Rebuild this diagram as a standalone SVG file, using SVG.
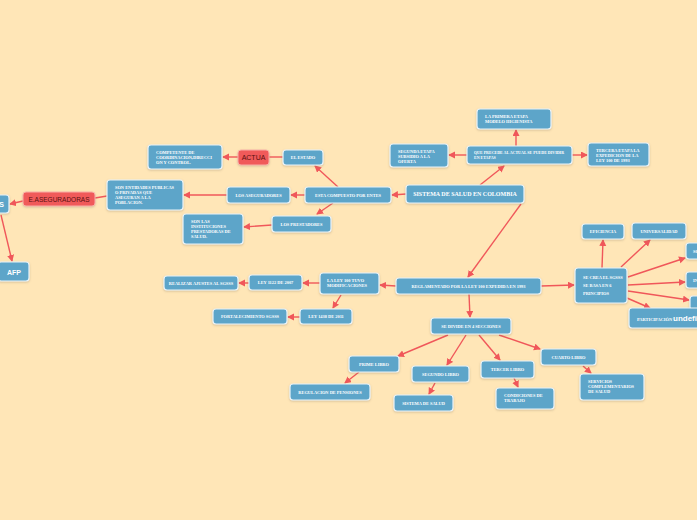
<svg xmlns="http://www.w3.org/2000/svg" width="697" height="520" viewBox="0 0 697 520">
<defs>
<style>
.bg{fill:#FFE6B7}
.n rect{fill:#5DA5C9;stroke:#EAF3F8;stroke-width:1.2;filter:url(#sh)}
.r rect{fill:#F05A5A;stroke:#F8B0A8;stroke-width:1;filter:url(#sh)}
.n text{fill:#FFFFFF;font-family:"Liberation Serif",serif;font-weight:bold;font-size:4.4px}
.c{text-anchor:middle}
.big{font-size:6px !important}
.sm{font-size:4px !important}
.r text{fill:#5A1010;font-family:"Liberation Sans",Arial,sans-serif;font-size:7px;text-anchor:middle}
.afp{font-family:"Liberation Sans",Arial,sans-serif !important;font-size:7px !important}
.und{font-family:"Liberation Sans",Arial,sans-serif !important;font-size:8px !important}
#edges path{fill:none;stroke:#F0575A;stroke-width:1.4}
#edges .a{marker-end:url(#ah)}
</style>
<marker id="ah" markerUnits="userSpaceOnUse" markerWidth="8" markerHeight="8" refX="6" refY="3.5" orient="auto">
<path d="M0,0 L7,3.5 L0,7 Z" fill="#F0575A"/>
</marker>
<filter id="sh" x="-10%" y="-20%" width="120%" height="150%">
<feDropShadow dx="0" dy="1" stdDeviation="0.8" flood-color="#8a7a60" flood-opacity="0.35"/>
</filter>
</defs>
<rect class="bg" x="0" y="0" width="697" height="520"/>

<g id="edges">
<path class="a" d="M480,185 L504,166"/>
<path class="a" d="M516,146 L516,130"/>
<path class="a" d="M467,155 L449,155"/>
<path class="a" d="M572,155 L587,155"/>
<path class="a" d="M406,194 L392,195"/>
<path class="a" d="M338,187 L315,166"/>
<path d="M283,157 L269,157"/>
<path class="a" d="M238,157 L223,157"/>
<path class="a" d="M305,195 L291,195"/>
<path class="a" d="M227,195 L184,195"/>
<path d="M107,196 L95,198"/>
<path class="a" d="M23,201 L10,204"/>
<path class="a" d="M1,215 L12,261"/>
<path class="a" d="M333,203 L317,214"/>
<path class="a" d="M272,225 L244,227"/>
<path class="a" d="M521,204 L468,277"/>
<path class="a" d="M396,286 L380,285"/>
<path class="a" d="M320,283 L303,283"/>
<path class="a" d="M249,283 L239,283"/>
<path class="a" d="M341,295 L333,308"/>
<path class="a" d="M300,317 L288,317"/>
<path class="a" d="M469,294 L470,317"/>
<path class="a" d="M541,286 L574,285"/>
<path class="a" d="M448,335 L398,356"/>
<path class="a" d="M466,335 L447,365"/>
<path class="a" d="M479,335 L500,360"/>
<path class="a" d="M499,335 L540,349"/>
<path class="a" d="M359,372 L345,383"/>
<path class="a" d="M435,383 L429,394"/>
<path class="a" d="M514,378 L518,387"/>
<path class="a" d="M583,366 L591,373"/>
<path class="a" d="M602,268 L603,240"/>
<path class="a" d="M621,267 L650,240"/>
<path class="a" d="M628,277 L685,258"/>
<path class="a" d="M628,285 L685,282"/>
<path class="a" d="M628,291 L689,300"/>
<path class="a" d="M627,298 L650,308"/>
</g>

<g id="central" class="n"><rect x="406" y="185" width="118" height="18" rx="3"/><text class="c big" x="465" y="196">SISTEMA DE SALUD EN COLOMBIA</text></g>
<g id="etapas" class="n"><rect x="467" y="146" width="105" height="18" rx="3"/><text class="sm" x="474" y="154">QUE PRECEDE AL ACTUAL SE PUEDE DIVIDIR</text><text class="sm" x="474" y="159">EN ETAPAS</text></g>
<g id="primera" class="n"><rect x="477" y="109" width="74" height="20" rx="3"/><text x="485" y="118">LA PRIMERA ETAPA</text><text x="485" y="123">MODELO HIGIENISTA</text></g>
<g id="segunda" class="n"><rect x="390" y="144" width="58" height="23" rx="3"/><text x="398" y="153">SEGUNDA ETAPA</text><text x="398" y="158">SUBSIDIO A LA</text><text x="398" y="163">OFERTA</text></g>
<g id="tercera" class="n"><rect x="588" y="143" width="61" height="23" rx="3"/><text x="596" y="152">TERCERA ETAPA LA</text><text x="596" y="157">EXPEDICION DE LA</text><text x="596" y="162">LEY 100 DE 1993</text></g>
<g id="compuesto" class="n"><rect x="305" y="187" width="86" height="16" rx="3"/><text class="c" x="348" y="197">ESTA COMPUESTO POR ENTES</text></g>
<g id="estado" class="n"><rect x="283" y="150" width="40" height="15" rx="3"/><text class="c" x="303" y="159">EL ESTADO</text></g>
<g id="actua" class="r"><rect x="238" y="150" width="31" height="15" rx="3"/><text x="253.5" y="160">ACTUA</text></g>
<g id="competente" class="n"><rect x="148" y="145" width="74" height="24" rx="3"/><text x="156" y="154">COMPETENTE DE</text><text x="156" y="159">COORDINACION,DIRECCI</text><text x="156" y="164">ON Y CONTROL.</text></g>
<g id="aseguradores" class="n"><rect x="227" y="187" width="63" height="16" rx="3"/><text class="c" x="258.5" y="197">LOS ASEGURADORES</text></g>
<g id="entidades" class="n"><rect x="107" y="180" width="76" height="30" rx="3"/><text x="115" y="189">SON ENTIDADES PUBLICAS</text><text x="115" y="194">O PRIVADAS QUE</text><text x="115" y="199">ASEGURAN A LA</text><text x="115" y="204">POBLACION.</text></g>
<g id="easeguradoras" class="r"><rect x="23" y="192" width="72" height="14" rx="3"/><text x="59" y="201.5" style="font-size:6.5px">E.ASEGURADORAS</text></g>
<g id="eps" class="n"><rect x="-30" y="195" width="39" height="18" rx="3"/><text class="afp" x="4" y="206.5" text-anchor="end">EPS</text></g>
<g id="afp" class="n"><rect x="-2" y="262" width="31" height="19" rx="3"/><text class="c afp" x="14" y="274.5">AFP</text></g>
<g id="prestadores" class="n"><rect x="272" y="216" width="59" height="16" rx="3"/><text class="c" x="301.5" y="226">LOS PRESTADORES</text></g>
<g id="instituciones" class="n"><rect x="183" y="214" width="60" height="30" rx="3"/><text x="191" y="223">SON LAS</text><text x="191" y="228">INSTITUCIONES</text><text x="191" y="233">PRESTADORAS DE</text><text x="191" y="238">SALUD.</text></g>
<g id="reglamentado" class="n"><rect x="396" y="278" width="145" height="16" rx="3"/><text class="c" x="468.5" y="288">REGLAMENTADO POR LA LEY 100 EXPEDIDA EN 1993</text></g>
<g id="modificaciones" class="n"><rect x="320" y="273" width="59" height="21" rx="3"/><text x="327" y="282">LA LEY 100 TUVO</text><text x="327" y="287">MODIFICACIONES</text></g>
<g id="ley1122" class="n"><rect x="249" y="275" width="53" height="15" rx="3"/><text class="c" x="275.5" y="284">LEY 1122 DE 2007</text></g>
<g id="ajustes" class="n"><rect x="164" y="276" width="74" height="14" rx="3"/><text class="c" x="201" y="284.5">REALIZAR AJUSTES AL SGSSS</text></g>
<g id="ley1438" class="n"><rect x="300" y="309" width="52" height="15" rx="3"/><text class="c" x="326" y="318">LEY 1438 DE 2011</text></g>
<g id="fortalecimiento" class="n"><rect x="213" y="309" width="74" height="15" rx="3"/><text class="c" x="250" y="318">FORTALECIMIENTO SGSSS</text></g>
<g id="secciones" class="n"><rect x="431" y="318" width="80" height="16" rx="3"/><text class="c" x="471" y="328">SE DIVIDE EN 4 SECCIONES</text></g>
<g id="prime" class="n"><rect x="349" y="356" width="50" height="16" rx="3"/><text class="c" x="374" y="366">PRIME LIBRO</text></g>
<g id="pensiones" class="n"><rect x="290" y="384" width="80" height="16" rx="3"/><text class="c" x="330" y="394">REGULACION DE PENSIONES</text></g>
<g id="segundo" class="n"><rect x="412" y="366" width="57" height="16" rx="3"/><text class="c" x="440.5" y="376">SEGUNDO LIBRO</text></g>
<g id="sistemasalud" class="n"><rect x="394" y="395" width="59" height="16" rx="3"/><text class="c" x="423.5" y="405">SISTEMA DE SALUD</text></g>
<g id="tercer" class="n"><rect x="481" y="361" width="53" height="17" rx="3"/><text class="c" x="507.5" y="371">TERCER LIBRO</text></g>
<g id="condiciones" class="n"><rect x="496" y="388" width="58" height="21" rx="3"/><text x="504" y="397">CONDICIONES DE</text><text x="504" y="402">TRABAJO</text></g>
<g id="cuarto" class="n"><rect x="541" y="349" width="55" height="16" rx="3"/><text class="c" x="568.5" y="359">CUARTO LIBRO</text></g>
<g id="servicios" class="n"><rect x="580" y="374" width="64" height="26" rx="3"/><text x="588" y="383">SERVICIOS</text><text x="588" y="388">COMPLEMENTARIOS</text><text x="588" y="393">DE SALUD</text></g>
<g id="principios" class="n"><rect x="575" y="268" width="52" height="35" rx="3"/><text x="583" y="279">SE CREA EL SGSSS</text><text x="583" y="287">SE BASA EN 6</text><text x="583" y="295">PRINCIPIOS</text></g>
<g id="eficiencia" class="n"><rect x="582" y="224" width="42" height="15" rx="3"/><text class="c" x="603" y="233">EFICIENCIA</text></g>
<g id="universalidad" class="n"><rect x="632" y="223" width="54" height="16" rx="3"/><text class="c" x="659" y="233">UNIVERSALIDAD</text></g>
<g id="solidaridad" class="n"><rect x="686" y="243" width="40" height="16" rx="3"/><text x="693" y="253">SOLIDARIDAD</text></g>
<g id="integralidad" class="n"><rect x="686" y="272" width="40" height="16" rx="3"/><text x="693" y="282">INTEGRALIDAD</text></g>
<g id="unidad" class="n"><rect x="690" y="296" width="30" height="14" rx="3"/><text x="697" y="305">UNIDAD</text></g>
<g id="participacion" class="n"><rect x="629" y="308" width="80" height="20" rx="3"/><text x="637" y="321">PARTICIPACIÓN</text><text class="und" x="673" y="321">undefined</text></g>
</svg>
